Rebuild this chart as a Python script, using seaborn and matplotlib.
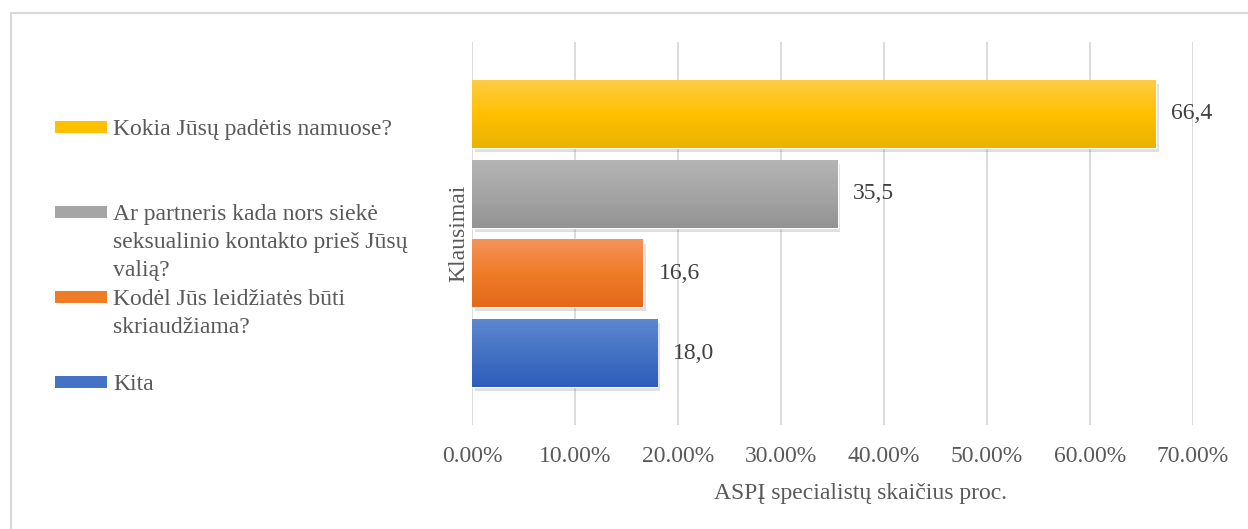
import numpy as np
import pandas as pd
import matplotlib
matplotlib.use("Agg")
import matplotlib.pyplot as plt
import matplotlib.patheffects as pe
from matplotlib.colors import LinearSegmentedColormap
from matplotlib.patches import Rectangle
import seaborn as sns

# data
questions = [
    "Kokia Jūsų padėtis namuose?",
    "Ar partneris kada nors siekė seksualinio kontakto prieš Jūsų valią?",
    "Kodėl Jūs leidžiatės būti skriaudžiama?",
    "Kita",
]
legend_labels = [
    "Kokia Jūsų padėtis namuose?",
    "Ar partneris kada nors siekė\nseksualinio kontakto prieš Jūsų\nvalią?",
    "Kodėl Jūs leidžiatės būti\nskriaudžiama?",
    "Kita",
]
values = [66.4, 35.5, 16.6, 18.0]
x_ticks = [0, 10, 20, 30, 40, 50, 60, 70]

# gradient colours (top, middle, bottom) for each bar
gradients = [
    ["#FFCB45", "#FFC000", "#E9B300"],
    ["#B5B5B5", "#A5A5A5", "#939393"],
    ["#F4935C", "#F07B27", "#E2691A"],
    ["#5E87D0", "#4472C4", "#2D5DB9"],
]
base_colors = [g[1] for g in gradients]

sns.set_theme(style="white")
plt.rcParams["font.family"] = ["Liberation Serif", "DejaVu Serif"]
text_col = "#595959"
fs = 17

df = pd.DataFrame({"question": questions, "value": values})

W, H = 1248, 529
ax_l, ax_r, ax_t, ax_b = 472, 1193, 42, 425
fig = plt.figure(figsize=(W / 100, H / 100), dpi=100)
ax = fig.add_axes([ax_l / W, 1 - ax_b / H, (ax_r - ax_l) / W, (ax_b - ax_t) / H])

sns.barplot(data=df, x="value", y="question", hue="question", palette=base_colors,
            order=questions, hue_order=questions, width=0.85, orient="h",
            legend=False, ax=ax, zorder=3)

# gradient fill + soft shadow on each bar
for patch in ax.patches:
    yc = patch.get_y() + patch.get_height() / 2
    i = int(round(yc))
    patch.set_path_effects([pe.SimplePatchShadow(offset=(2, -3), shadow_rgbFace="#808080", alpha=0.25),
                            pe.Normal()])
    cmap = LinearSegmentedColormap.from_list(f"g{i}", gradients[i])
    x0, y0 = patch.get_x(), patch.get_y()
    x1, y1 = x0 + patch.get_width(), y0 + patch.get_height()
    grad = np.linspace(0, 1, 256).reshape(-1, 1)
    im = ax.imshow(grad, extent=(x0, x1, y1, y0), origin="upper", aspect="auto",
                   cmap=cmap, zorder=4)
    im.set_clip_path(patch)
    ax.text(x1 + 1.5, yc, f"{values[i]:.1f}".replace(".", ","), va="center", ha="left",
            fontsize=fs, color="#404040")

ax.set_xlim(0, 70)
ax.set_ylim(3.9, -0.9)

ax.set_xticks(x_ticks)
ax.set_xticklabels([f"{t:.2f}%" for t in x_ticks], fontsize=fs, color=text_col)
ax.tick_params(axis="x", length=0, pad=15)
ax.set_yticks([])
ax.grid(axis="x", color="#D9D9D9", linewidth=1.3, zorder=0)
for s in ax.spines.values():
    s.set_visible(False)

ax.set_xlabel("ASPĮ specialistų skaičius proc.", fontsize=fs, color=text_col)
ax.xaxis.set_label_coords((861 - ax_l) / (ax_r - ax_l), -(483 - ax_b) / (ax_b - ax_t))
ax.set_ylabel("Klausimai", fontsize=fs, color=text_col, labelpad=2)

# legend on the left, drawn by hand so the key sits beside the first text line
legend_base = [135, 220, 305, 390]
line_gap = 28
for i, lab in enumerate(legend_labels):
    b = legend_base[i]
    fig.patches.append(Rectangle((55 / W, 1 - (b - 2) / H), 52 / W, 12 / H,
                                 transform=fig.transFigure, facecolor=base_colors[i],
                                 edgecolor="none"))
    for k, line in enumerate(lab.split("\n")):
        fig.text(113 / W, 1 - (b + k * line_gap) / H, line, ha="left", va="baseline",
                 fontsize=fs, color=text_col)

# light chart border (left and top edges visible)
fig.patches.append(Rectangle((11 / W, -0.05), 1.1, 1 - 13 / H + 0.05, transform=fig.transFigure,
                             facecolor="none", edgecolor="#D9D9D9", linewidth=1.5))

fig.savefig("out.png", dpi=100)
